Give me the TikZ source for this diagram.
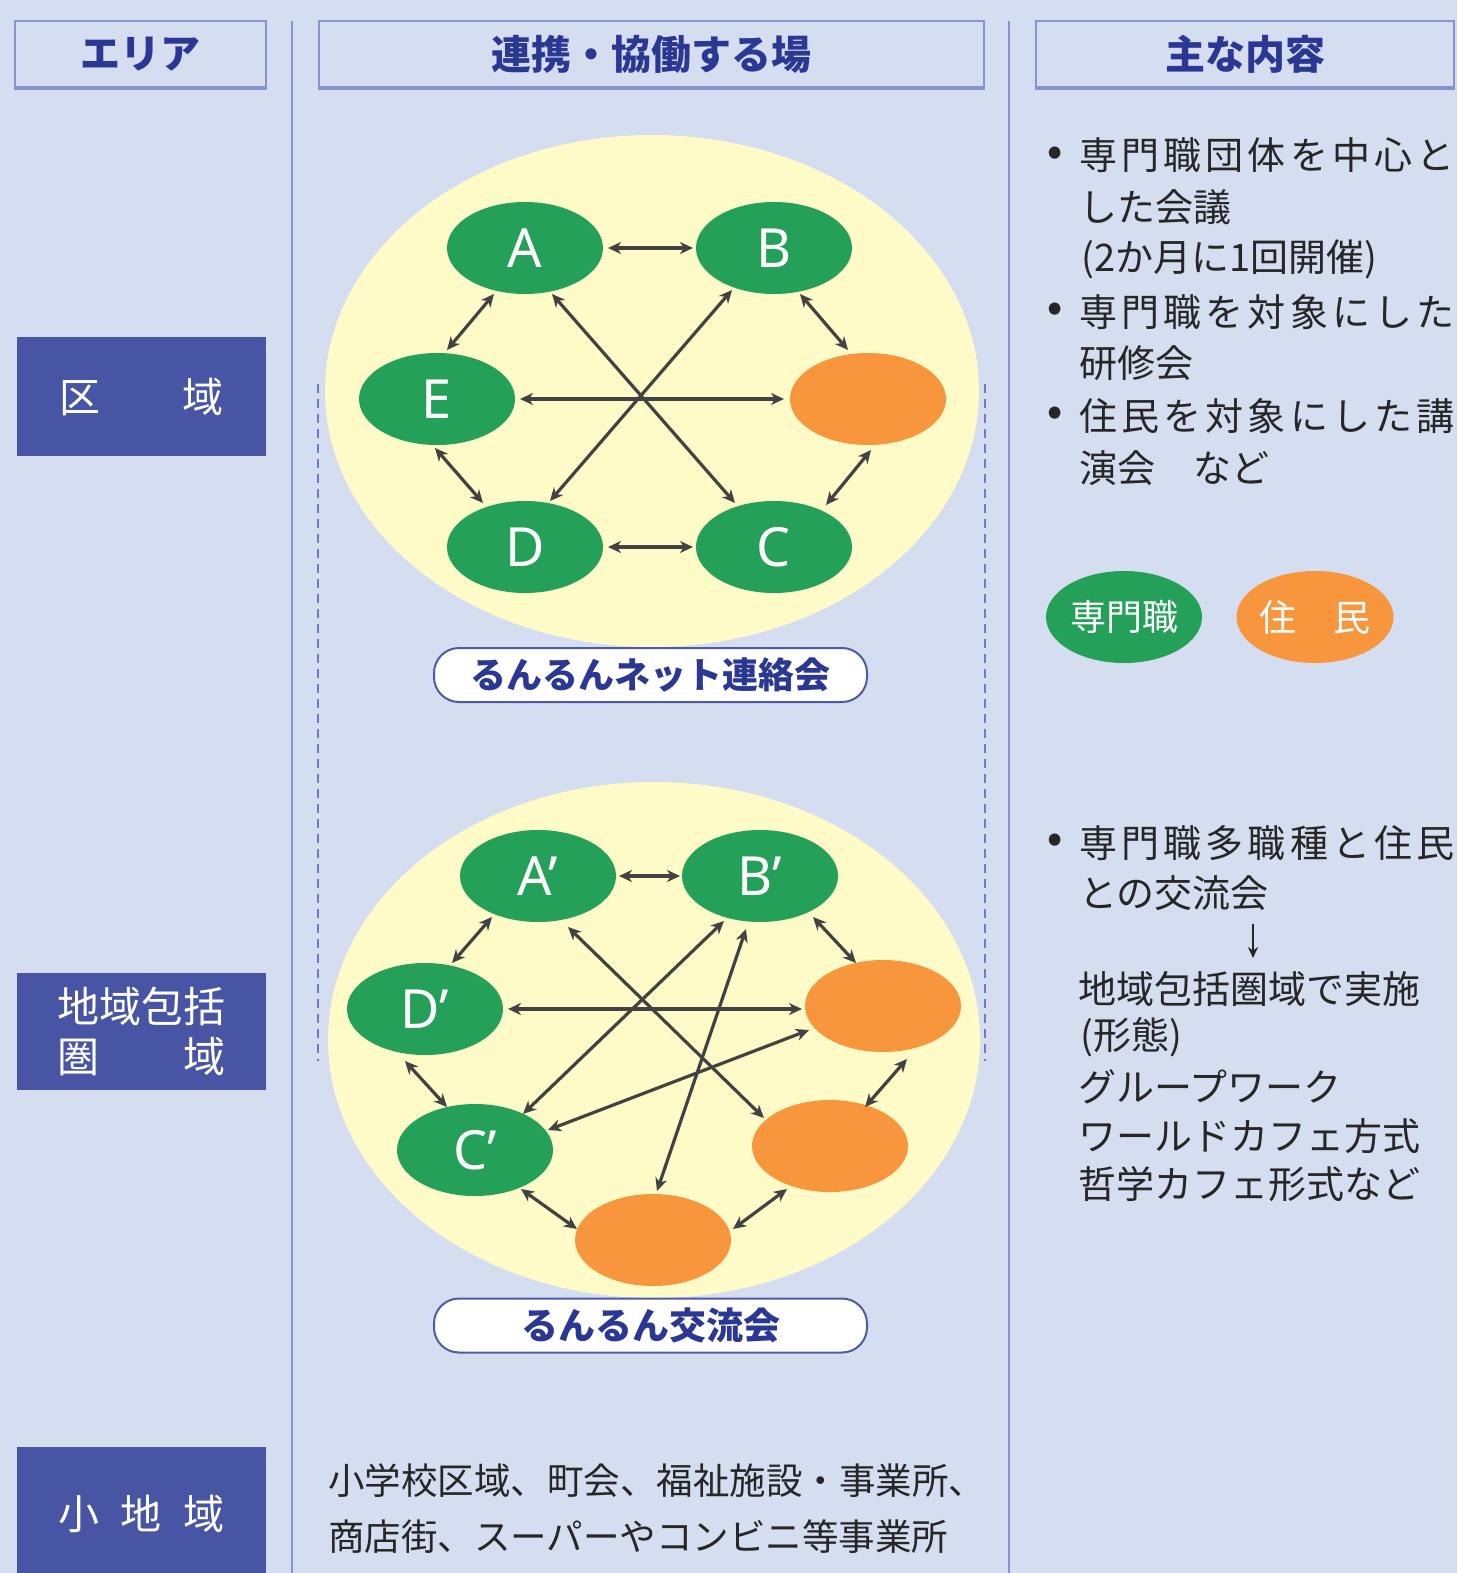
\documentclass[tikz,border=0pt]{standalone}
\usepackage{fontspec}
\usetikzlibrary{shapes.geometric,arrows.meta}
\newfontfamily\jp{Noto Sans CJK JP}
\newfontfamily\jpls[LetterSpace=11]{Noto Sans CJK JP}
\newfontfamily\lat{Noto Sans}
\definecolor{bg}{RGB}{213,221,241}
\definecolor{hdrline}{RGB}{135,146,206}
\definecolor{hdrtext}{RGB}{42,56,148}
\definecolor{darkbox}{RGB}{72,84,164}
\definecolor{pgreen}{RGB}{36,160,88}
\definecolor{porange}{RGB}{247,150,60}
\definecolor{yel}{RGB}{255,251,200}
\definecolor{arr}{RGB}{66,66,66}
\definecolor{dashc}{RGB}{112,124,194}
\definecolor{lblline}{RGB}{78,90,168}
\definecolor{txt}{RGB}{38,38,38}
\begin{document}
\begin{tikzpicture}[x=1pt,y=-1pt,
  hdrbox/.style={draw=hdrline, line width=2pt, minimum height=66pt, inner sep=0pt,
     text=hdrtext, font=\jp\bfseries\fontsize{40}{44}\selectfont},
  areabox/.style={fill=darkbox, minimum width=249pt, inner sep=0pt, text=white,
     align=center, font=\jp\fontsize{41}{50}\selectfont},
  bigcirc/.style={ellipse, fill=yel, inner sep=0pt},
  pro/.style={ellipse, fill=pgreen, minimum width=156pt, minimum height=92pt, inner sep=0pt,
     text=white, font=\lat\fontsize{54}{54}\selectfont},
  res/.style={ellipse, fill=porange, minimum width=156pt, minimum height=92pt, inner sep=0pt,
     text=white, font=\jp\fontsize{37}{37}\selectfont},
  lbl/.style={draw=lblline, line width=2pt, fill=white, rounded corners=25pt,
     minimum width=433pt, minimum height=54pt, inner sep=0pt, text=hdrtext,
     font=\jp\bfseries\fontsize{36}{36}\selectfont},
  biarrow/.style={draw=arr, line width=3.2pt,
     {Stealth[length=13pt,width=12pt,inset=4pt]}-{Stealth[length=13pt,width=12pt,inset=4pt]}},
  rtxt/.style={anchor=west, inner sep=0pt, text=txt, font=\jp\fontsize{38}{38}\selectfont},
  rtxtls/.style={anchor=west, inner sep=0pt, text=txt, font=\jpls\fontsize{38}{38}\selectfont},
  bul/.style={inner sep=0pt, text=txt, font=\jp\bfseries\fontsize{38}{38}\selectfont},
  btxt/.style={anchor=west, inner sep=0pt, text=txt, font=\jp\fontsize{36.5}{36.5}\selectfont},
  sepline/.style={draw=hdrline, line width=2.5pt},
  dashline/.style={draw=dashc, line width=2.6pt, dash pattern=on 9pt off 6pt}
]
\useasboundingbox (0,0) rectangle (1457,1573);
\fill[bg] (0,0) rectangle (1457,1573);

% column separators
\draw[sepline] (292,21) -- (292,1580);
\draw[sepline] (1009,21) -- (1009,1580);

% headers
\node[hdrbox, minimum width=251pt] (h1) at (140.5,54) {エリア};
\node[hdrbox, minimum width=665pt] (h2) at (651.5,54) {連携・協働する場};
\node[hdrbox, minimum width=418pt] (h3) at (1245,54) {主な内容};
\foreach \h in {h1,h2,h3}{
  \draw[hdrline, line width=3.5pt] (\h.south west) -- (\h.south east);
}

% area boxes
\node[areabox, minimum height=119pt] (ku) at (141.5,396.5) {区　　域};
\node[areabox, minimum height=117pt, font=\jp\fontsize{42}{50}\selectfont] (chiiki) at (141.5,1031.5) {地域包括\\圏　　域};
\node[areabox, minimum height=133pt] (sho) at (141.5,1513.5) {小\hspace{22pt}地\hspace{22pt}域};

% dashed guide lines
\draw[dashline] (318,384) -- (318,1061);
\draw[dashline] (985,384) -- (985,1061);

% ===== upper network =====
\node[bigcirc, minimum width=654pt, minimum height=512pt] (c1) at (652,391) {};
\node[lbl] (L1) at (650.5,675) {るんるんネット連絡会};
\node[pro] (A) at (525,248) {A};
\node[pro] (B) at (774,248) {B};
\node[pro] (E) at (437,399) {E};
\node[res] (O) at (868,399) {};
\node[pro] (D) at (525,547) {D};
\node[pro] (C) at (774,547) {C};

\draw[biarrow] ([shift={(83,0)}]A.center) -- ([shift={(-81,0)}]B.center);
\draw[biarrow] ([shift={(-31,46)}]A.center) -- ([shift={(10,-49)}]E.center);
\draw[biarrow] ([shift={(83,0)}]E.center) -- ([shift={(-84,0)}]O.center);
\draw[biarrow] ([shift={(26,46)}]B.center) -- ([shift={(-20,-49)}]O.center);
\draw[biarrow] ([shift={(-2,49)}]E.center) -- ([shift={(-42,-44)}]D.center);
\draw[biarrow] ([shift={(3,51)}]O.center) -- ([shift={(52,-42)}]C.center);
\draw[biarrow] ([shift={(27,46)}]A.center) -- ([shift={(-39,-44)}]C.center);
\draw[biarrow] ([shift={(-42,42)}]B.center) -- ([shift={(25,-46)}]D.center);
\draw[biarrow] ([shift={(83,0)}]D.center) -- ([shift={(-81,0)}]C.center);

% ===== lower network =====
\node[bigcirc, minimum width=652pt, minimum height=516pt] (c2) at (654,1040) {};
\node[lbl, font=\jp\bfseries\fontsize{37}{37}\selectfont] (L2) at (650.5,1325.5) {るんるん交流会};
\node[pro] (A2) at (538,876) {A’};
\node[pro] (B2) at (760,876) {B’};
\node[pro] (D2) at (425,1009) {D’};
\node[res] (O1) at (883,1006) {};
\node[pro] (C2) at (475,1150) {C’};
\node[res] (O2) at (830,1146) {};
\node[res] (O3) at (653,1240) {};

\draw[biarrow] ([shift={(81,0)}]A2.center) -- ([shift={(-80,0)}]B2.center);
\draw[biarrow] ([shift={(-46,41)}]A2.center) -- ([shift={(27,-46)}]D2.center);
\draw[biarrow] ([shift={(53,41)}]B2.center) -- ([shift={(-27,-43)}]O1.center);
\draw[biarrow] ([shift={(83,0)}]D2.center) -- ([shift={(-81,3)}]O1.center);
\draw[biarrow] ([shift={(-20,52)}]D2.center) -- ([shift={(-28,-43)}]C2.center);
\draw[biarrow] ([shift={(24,53)}]O1.center) -- ([shift={(35,-39)}]O2.center);
\draw[biarrow] ([shift={(46,39)}]C2.center) -- ([shift={(-76,-11)}]O3.center);
\draw[biarrow] ([shift={(80,-11)}]O3.center) -- ([shift={(-43,43)}]O2.center);
\draw[biarrow] ([shift={(30,51)}]A2.center) -- ([shift={(-66,-28)}]O2.center);
\draw[biarrow] ([shift={(-36,45)}]B2.center) -- ([shift={(48,-36)}]C2.center);
\draw[biarrow] ([shift={(-14,53)}]B2.center) -- ([shift={(4,-49)}]O3.center);
\draw[biarrow] ([shift={(-74,24)}]O1.center) -- ([shift={(73,-20)}]C2.center);

% ===== right column: upper =====
\node[bul] (b1) at (1055,155.5) {•};
\node[rtxtls] (t1) at (1079,155.5) {専門職団体を中心と};
\node[rtxt] (t2) at (1079,207) {した会議};
\node[rtxt] (t3) at (1081,259) {(2か月に1回開催)};
\node[bul] (b2) at (1055,312) {•};
\node[rtxtls] (t4) at (1079,312) {専門職を対象にした};
\node[rtxt] (t5) at (1079,363) {研修会};
\node[bul] (b3) at (1055,416) {•};
\node[rtxtls] (t6) at (1079,416) {住民を対象にした講};
\node[rtxt] (t7) at (1079,468) {演会　など};

% legend
\node[pro, font=\jp\fontsize{36}{36}\selectfont] (legP) at (1124,617) {専門職};
\node[res] (legR) at (1315,617) {住　民};

% ===== right column: lower =====
\node[bul] (b4) at (1055,843) {•};
\node[rtxtls] (u1) at (1079,843) {専門職多職種と住民};
\node[rtxt] (u2) at (1079,893) {との交流会};
\coordinate (ar1) at (1253,924);
\coordinate (ar2) at (1253,958);
\draw[draw=txt, line width=2.4pt, -{Stealth[length=11pt,width=10pt]}] (ar1) -- (ar2);
\node[rtxt] (u3) at (1078,989) {地域包括圏域で実施};
\node[rtxt] (u4) at (1080,1037) {(形態)};
\node[rtxt] (u5) at (1078,1087) {グループワーク};
\node[rtxt] (u6) at (1078,1136) {ワールドカフェ方式};
\node[rtxt] (u7) at (1078,1184) {哲学カフェ形式など};

% ===== bottom text =====
\node[btxt] (s1) at (328,1481) {小学校区域、町会、福祉施設・事業所、};
\node[btxt] (s2) at (328,1537) {商店街、スーパーやコンビニ等事業所};
\end{tikzpicture}
\end{document}
